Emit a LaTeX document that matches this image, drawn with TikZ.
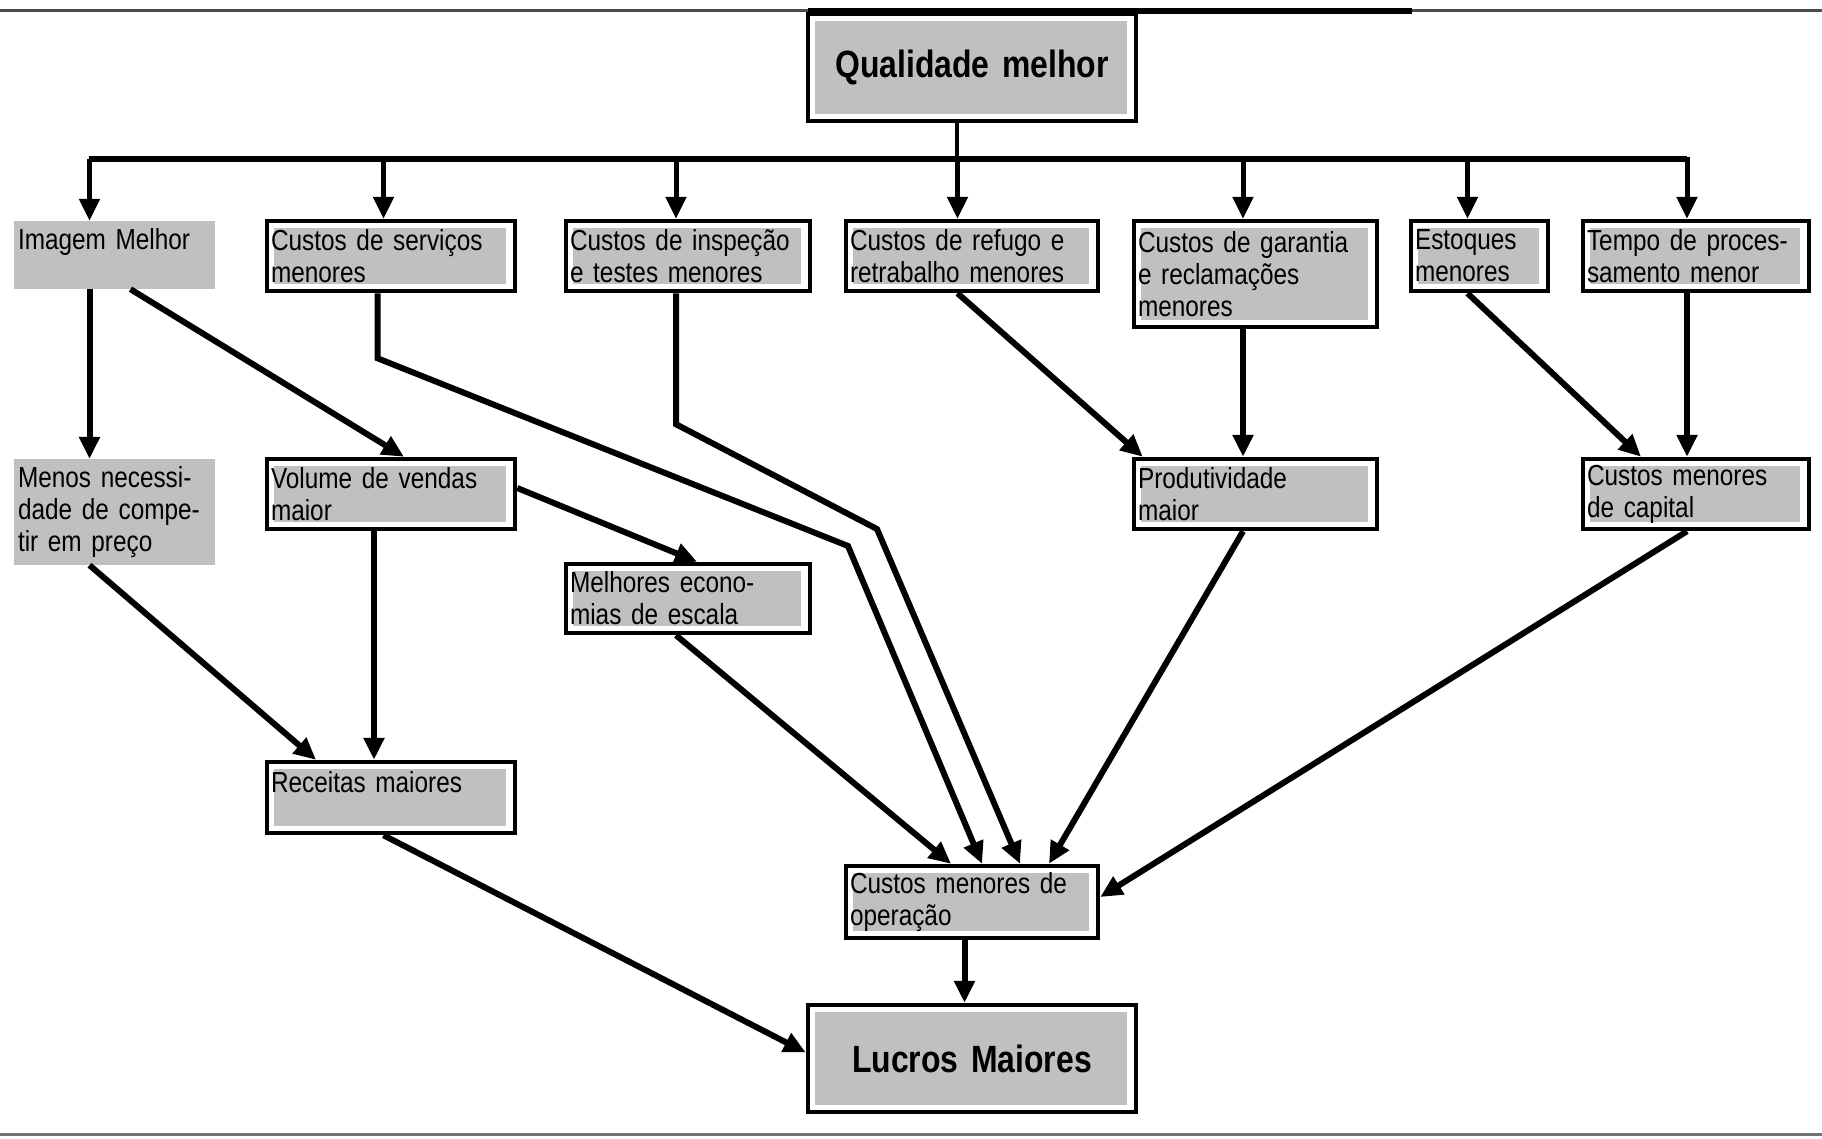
\documentclass[tikz,border=0pt]{standalone}
\usepackage{fontspec}
\setmainfont{Liberation Sans}[FakeStretch=0.84, WordSpace=0.7]
\usepackage{tikz}
\usetikzlibrary{arrows.meta}
\definecolor{boxgray}{RGB}{192,192,192}

\tikzset{
    box/.style={draw, line width=4.5pt, fill=white, inner xsep=4pt, inner ysep=2pt,
        align=left, font=\fontsize{29}{32}\selectfont,
        path picture={\fill[boxgray] ([xshift=7pt,yshift=-7pt]path picture bounding box.north west)
            rectangle ([xshift=-9pt,yshift=7pt]path picture bounding box.south east);}},
    plainbox/.style={fill=boxgray, inner xsep=4pt, inner ysep=2pt, align=left,
        font=\fontsize{29}{32}\selectfont},
    titlebox/.style={box, align=center, font=\fontsize{38}{40}\selectfont\bfseries},
    arr/.style={-{Triangle[length=22pt,width=20pt]}, line width=6pt},
}

\begin{document}
\begin{tikzpicture}[x=1pt, y=-1pt]
    \useasboundingbox (0,0) rectangle (1822,1138);

    % Draw the frame lines
    \draw[line width=3pt, black!70] (0,10) -- (1822,10);
    \draw[line width=6pt] (808,11) -- (1412,11);
    \draw[line width=3pt, black!55] (0,1134) -- (1822,1134);

    % Top and bottom boxes
    \node[titlebox, minimum width=328pt, minimum height=107pt, text width=320pt] (qual) at (972,67.5) {Qualidade melhor};
    \node[titlebox, minimum width=328pt, minimum height=107pt, text width=320pt] (lucros) at (972,1058.5) {Lucros Maiores};

    % First row
    \node[plainbox, minimum width=201pt, minimum height=68pt, text width=193pt] (img) at (114.5,255) {Imagem Melhor\\ \mbox{}};
    \node[box, minimum width=248pt, minimum height=70pt, text width=240pt] (serv) at (391,256) {Custos de serviços\\menores};
    \node[box, minimum width=244pt, minimum height=70pt, text width=236pt] (insp) at (688,256) {Custos de inspeção\\e testes menores};
    \node[box, minimum width=252pt, minimum height=70pt, text width=244pt] (ref) at (972,256) {Custos de refugo e\\retrabalho menores};
    \node[box, minimum width=243pt, minimum height=106pt, text width=235pt] (gar) at (1255.5,274) {Custos de garantia\\e reclamações\\menores};
    \node[box, minimum width=137pt, minimum height=70pt, text width=129pt] (est) at (1479.5,256) {Estoques\\menores};
    \node[box, minimum width=226pt, minimum height=70pt, text width=218pt] (tempo) at (1696,256) {Tempo de proces-\\samento menor};

    % Second row
    \node[plainbox, minimum width=201pt, minimum height=106pt, text width=193pt] (menos) at (114.5,512) {Menos necessi-\\dade de compe-\\tir em preço};
    \node[box, minimum width=248pt, minimum height=70pt, text width=240pt] (vol) at (391,494) {Volume de vendas\\maior};
    \node[box, minimum width=243pt, minimum height=70pt, text width=235pt] (prod) at (1255.5,494) {Produtividade\\maior};
    \node[box, minimum width=226pt, minimum height=70pt, text width=218pt] (cap) at (1696,494) {Custos menores\\de capital};
    \node[box, minimum width=244pt, minimum height=69pt, text width=236pt] (melh) at (688,598.5) {Melhores econo-\\mias de escala};

    % Lower row
    \node[box, minimum width=248pt, minimum height=71pt, text width=240pt] (rec) at (391,797.5) {Receitas maiores\\ \mbox{}};
    \node[box, minimum width=252pt, minimum height=72pt, text width=244pt] (oper) at (972,902) {Custos menores de\\operação};

    % Distribution bar under the top box
    \coordinate (busL) at (89,159);
    \coordinate (busR) at (1687,159);
    \draw[line width=4pt] ([xshift=-15pt]qual.south) -- ++(0,38);
    \draw[line width=6pt] (busL) -- (busR);
    \foreach \n/\d in {img/-25pt, serv/-7.5pt, insp/-12pt, ref/-14.5pt, gar/-12.5pt, est/-12pt, tempo/-9pt}
        \draw[arr, line width=5pt] ([xshift=\d]\n.north) ++(0,-62) -- ([xshift=\d]\n.north);

    % Arrows between the boxes
    \draw[arr] ([xshift=-25pt]img.south) -- ([xshift=-25pt]menos.north);
    \draw[arr] ([xshift=16pt]img.south) -- ([xshift=13pt]vol.north);
    \draw[arr] ([xshift=-13.5pt]serv.south) -- ++(0,65) -- (848,546) -- ([xshift=10pt]oper.north);
    \draw[arr] ([xshift=-12pt]insp.south) -- ++(0,131) -- (877,529) -- ([xshift=48pt]oper.north);
    \draw[arr] ([xshift=-14.5pt]ref.south) -- ([xshift=11pt]prod.north west);
    \draw[arr] ([xshift=-12.5pt]gar.south) -- ([xshift=-12.5pt]prod.north);
    \draw[arr] ([xshift=-12pt]est.south) -- ([xshift=-55pt]cap.north);
    \draw[arr] ([xshift=-9pt]tempo.south) -- ([xshift=-9pt]cap.north);
    \draw[arr] ([xshift=-25pt]menos.south) -- ([xshift=-75pt]rec.north);
    \draw[arr] ([xshift=-17pt]vol.south) -- ([xshift=-17pt]rec.north);
    \draw[arr] ([yshift=6pt]vol.east) -- ([xshift=9pt]melh.north);
    \draw[arr] ([xshift=-12pt]melh.south) -- ([xshift=-21pt]oper.north);
    \draw[arr] ([xshift=-12.5pt]prod.south) -- ([xshift=77pt]oper.north);
    \draw[arr] ([xshift=-9pt]cap.south) -- ([yshift=5pt]oper.east);
    \draw[arr] ([xshift=-7.5pt]rec.south) -- ([yshift=6pt]lucros.west);
    \draw[arr] ([xshift=-7.5pt]oper.south) -- ([xshift=-7.5pt]lucros.north);
\end{tikzpicture}
\end{document}
